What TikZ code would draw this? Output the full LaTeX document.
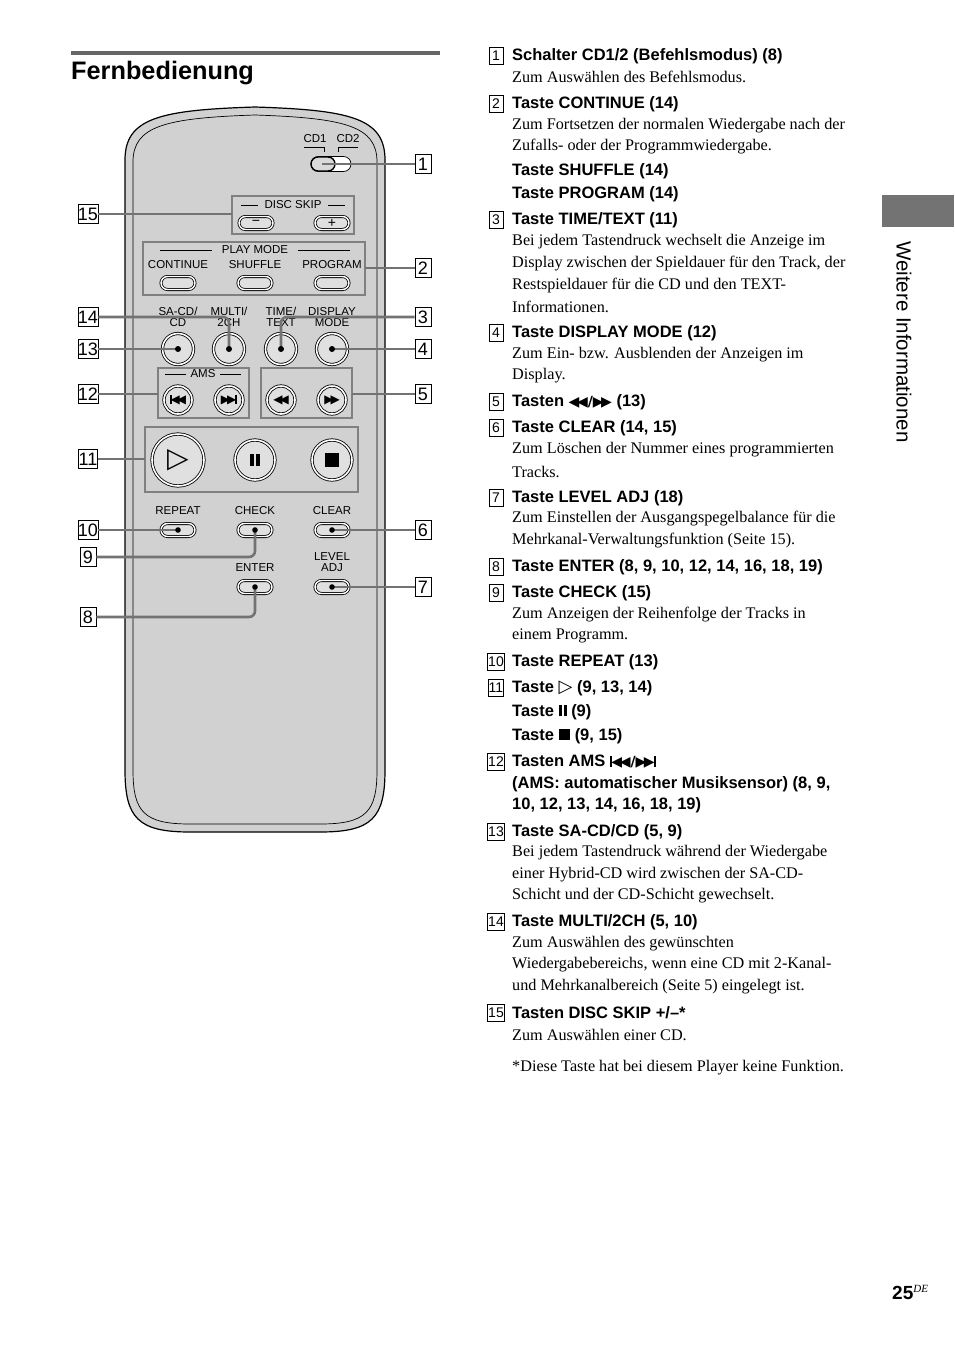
\documentclass[tikz,border=0pt]{standalone}
\usepackage{fontspec}
\setmainfont{Liberation Serif}
\setsansfont{Liberation Sans}
\newfontfamily\symf{DejaVu Sans}
\usetikzlibrary{shapes.misc}
\tikzset{
 lead/.style={draw=black!55,line width=2.6pt,rounded corners=6pt},
 numbox/.style={draw,line width=0.7pt,inner sep=0pt,minimum width=16pt,minimum height=19pt,font=\sffamily\fontsize{18}{18}\selectfont},
 rnum/.style={draw,line width=0.6pt,inner sep=0.5pt,minimum width=14pt,minimum height=17pt,font=\sffamily\fontsize{14}{14}\selectfont},
 grp/.style={draw=black!50,line width=2.4pt},
 lbl/.style={font=\sffamily\fontsize{11.5}{11.5}\selectfont,inner sep=0pt,align=center},
 pill/.style={rounded rectangle,draw,line width=0.8pt,double=white,double distance=1.4pt,fill=black!12,minimum width=34pt,minimum height=13pt,inner sep=0pt,font=\sffamily\fontsize{14}{14}\selectfont},
 rbtn/.style={circle,draw,line width=0.8pt,double=white,double distance=1.6pt,fill=black!12,minimum size=#1,inner sep=0pt},
 hd/.style={anchor=west,inner sep=0pt,font=\sffamily\bfseries\fontsize{16.5}{16.5}\selectfont},
 bd/.style={anchor=west,inner sep=0pt,font=\fontsize{16.2}{16.2}\selectfont},
}
\newcommand{\Hd}[3]{\node[rnum] (r#1) at (496,#1) {#2}; \node[hd] (h#1) at (512,#1) {#3};}
\newcommand{\Ho}[2]{\node[hd] (h#1) at (512,#1) {#2};}
\newcommand{\Bd}[2]{\node[bd] (b#1) at (512,#1) {#2};}
\begin{document}
\begin{tikzpicture}[x=1pt,y=-1pt]
\useasboundingbox (0,0) rectangle (954,1352);
% title
\draw[line width=4pt,black!60] (71,53) -- (440,53);
\node[anchor=west,inner sep=0pt,font=\sffamily\bfseries\fontsize{25.3}{25.3}\selectfont] (title) at (71,73) {Fernbedienung};
% remote body
\draw[line width=1.2pt,fill=black!18] (125,770) -- (125,160) .. controls (125,118) and (160,110) .. (255,107) .. controls (350,110) and (385,118) .. (385,160) -- (385,770) .. controls (385,818) and (372,832) .. (320,832) -- (190,832) .. controls (138,832) and (125,818) .. (125,770) -- cycle;
\draw[line width=0.7pt] (133,770) -- (133,162) .. controls (133,126) and (165,118) .. (255,115) .. controls (345,118) and (377,126) .. (377,162) -- (377,770) .. controls (377,812) and (366,824) .. (320,824) -- (190,824) .. controls (144,824) and (133,812) .. (133,770) -- cycle;
% CD switch
\node[lbl] (cd1) at (315,139) {CD1};
\node[lbl] (cd2) at (348,139) {CD2};
\draw[line width=0.6pt] (304,147) -- (324,147) -- (324,152);
\draw[line width=0.6pt] (338,152) -- (338,147) -- (358,147);
\node[rounded rectangle,draw,line width=0.7pt,fill=white,minimum width=40pt,minimum height=15pt,inner sep=0pt] (sw) at (331,164) {};
\node[rounded rectangle,draw,line width=1.4pt,fill=black!15,minimum width=24pt,minimum height=14pt,inner sep=0pt] (knob) at (323,164) {};
\node[numbox] (n1) at (423,164) {1};
\draw[lead] (n1.west) -- (322,164);
% disc skip
\draw[grp] (232,196) rectangle (354,234);
\node[lbl] (ds) at (293,205) {DISC SKIP};
\draw[line width=0.6pt] (241,205) -- (258,205) (328,205) -- (345,205);
\node[pill] (minus) at (256,223) {−};
\node[pill] (plus) at (332,223) {+};
\node[numbox] (n15) at (88,214) {15};
\draw[lead] (n15.east) -- (232,214);
% play mode
\draw[grp] (143,242) rectangle (365,295);
\node[lbl] (pm) at (255,250) {PLAY MODE};
\draw[line width=0.6pt] (160,250) -- (212,250) (298,250) -- (350,250);
\node[lbl] (lcont) at (178,265) {CONTINUE};
\node[lbl] (lshuf) at (255,265) {SHUFFLE};
\node[lbl] (lprog) at (332,265) {PROGRAM};
\node[pill] (bcont) at (178,283) {};
\node[pill] (bshuf) at (255,283) {};
\node[pill] (bprog) at (332,283) {};
\node[numbox] (n2) at (423,268) {2};
\draw[lead] (n2.west) -- (365,268);
% round buttons
\node[lbl] (lsa) at (178,317) {SA-CD/\\[-1pt]CD};
\node[lbl] (lmu) at (229,317) {MULTI/\\[-1pt]2CH};
\node[lbl] (lti) at (281,317) {TIME/\\[-1pt]TEXT};
\node[lbl] (ldi) at (332,317) {DISPLAY\\[-1pt]MODE};
\node[rbtn=31pt] (bsa) at (178,349) {};
\node[rbtn=31pt] (bmu) at (229,349) {};
\node[rbtn=31pt] (bti) at (281,349) {};
\node[rbtn=31pt] (bdi) at (332,349) {};
\node[numbox] (n14) at (88,317) {14};
\node[numbox] (n3) at (423,317) {3};
\node[numbox] (n13) at (88,349) {13};
\node[numbox] (n4) at (423,349) {4};
\draw[lead] (n14.east) -- (229,317) -- (bmu.center);
\draw[lead] (n3.west) -- (281,317) -- (bti.center);
\draw[lead] (n13.east) -- (bsa.center);
\draw[lead] (n4.west) -- (bdi.center);
\foreach \b in {bsa,bmu,bti,bdi} \fill (\b.center) circle (3pt);
% AMS & search
\draw[grp] (158,368) rectangle (249,418);
\draw[grp] (261,368) rectangle (352,418);
\node[lbl] (ams) at (203,374) {AMS};
\draw[line width=0.6pt] (165,374) -- (186,374) (220,374) -- (241,374);
\node[rbtn=28pt,font=\symf\fontsize{12}{12}\selectfont] (bprev) at (178,400) {\rule{1.8pt}{9pt}\kern-1pt◀\kern-3pt◀};
\node[rbtn=28pt,font=\symf\fontsize{12}{12}\selectfont] (bnext) at (229,400) {▶\kern-3pt▶\kern-1pt\rule{1.8pt}{9pt}};
\node[rbtn=28pt,font=\symf\fontsize{12}{12}\selectfont] (brew) at (281,400) {◀\kern-3pt◀};
\node[rbtn=28pt,font=\symf\fontsize{12}{12}\selectfont] (bff) at (332,400) {▶\kern-3pt▶};
\node[numbox] (n12) at (88,394) {12};
\node[numbox] (n5) at (423,394) {5};
\draw[lead] (n12.east) -- (158,394);
\draw[lead] (n5.west) -- (352,394);
% transport
\draw[grp] (145,427) rectangle (358,492);
\node[rbtn=52pt,font=\symf\fontsize{28}{28}\selectfont] (bplay) at (178,460) {▷};
\node[rbtn=40pt] (bpause) at (255,460) {\rule{3.5pt}{12pt}\kern2.5pt\rule{3.5pt}{12pt}};
\node[rbtn=40pt] (bstop) at (332,460) {\rule{14pt}{14pt}};
\node[numbox] (n11) at (88,459) {11};
\draw[lead] (n11.east) -- (145,459);
% lower buttons
\node[lbl] (lrep) at (178,511) {REPEAT};
\node[lbl] (lchk) at (255,511) {CHECK};
\node[lbl] (lclr) at (332,511) {CLEAR};
\node[lbl] (lent) at (255,568) {ENTER};
\node[lbl] (llev) at (332,562) {LEVEL\\[-1pt]ADJ};
\node[pill] (brep) at (178,530) {};
\node[pill] (bchk) at (255,530) {};
\node[pill] (bclr) at (332,530) {};
\node[pill] (bent) at (255,587) {};
\node[pill] (blev) at (332,587) {};
\node[numbox] (n10) at (88,530) {10};
\node[numbox] (n9) at (88,557) {9};
\node[numbox] (n8) at (88,617) {8};
\node[numbox] (n6) at (423,530) {6};
\node[numbox] (n7) at (423,587) {7};
\draw[lead] (n10.east) -- (brep.center);
\draw[lead] (n6.west) -- (bclr.center);
\draw[lead] (n7.west) -- (blev.center);
\draw[lead] (n9.east) -- (255,557) -- (bchk.center);
\draw[lead] (n8.east) -- (255,617) -- (bent.center);
\foreach \b in {brep,bchk,bclr,bent,blev} \fill (\b.center) circle (2.8pt);
% right column
\Hd{56}{1}{Schalter CD1/2 (Befehlsmodus) (8)}
\Bd{77}{Zum Auswählen des Befehlsmodus.}
\Hd{104}{2}{Taste CONTINUE (14)}
\Bd{126}{Zum Fortsetzen der normalen Wiedergabe nach der}
\Bd{147}{Zufalls- oder der Programmwiedergabe.}
\Ho{171}{Taste SHUFFLE (14)}
\Ho{194}{Taste PROGRAM (14)}
\Hd{220}{3}{Taste TIME/TEXT (11)}
\Bd{242}{Bei jedem Tastendruck wechselt die Anzeige im}
\Bd{264}{Display zwischen der Spieldauer für den Track, der}
\Bd{286}{Restspieldauer für die CD und den TEXT-}
\Bd{307}{Informationen.}
\Hd{333}{4}{Taste DISPLAY MODE (12)}
\Bd{355}{Zum Ein- bzw. Ausblenden der Anzeigen im}
\Bd{376}{Display.}
\Hd{402}{5}{Tasten {\symf\fontsize{14}{14}\selectfont ◀\kern-2.5pt◀/▶\kern-2.5pt▶} (13)}
\Hd{428}{6}{Taste CLEAR (14, 15)}
\Bd{450}{Zum Löschen der Nummer eines programmierten}
\Bd{472}{Tracks.}
\Hd{498}{7}{Taste LEVEL ADJ (18)}
\Bd{519}{Zum Einstellen der Ausgangspegelbalance für die}
\Bd{541}{Mehrkanal-Verwaltungsfunktion (Seite 15).}
\Hd{567}{8}{Taste ENTER (8, 9, 10, 12, 14, 16, 18, 19)}
\Hd{593}{9}{Taste CHECK (15)}
\Bd{615}{Zum Anzeigen der Reihenfolge der Tracks in}
\Bd{636}{einem Programm.}
\Hd{662}{10}{Taste REPEAT (13)}
\Hd{688}{11}{Taste {\symf\fontsize{18}{18}\selectfont ▷} (9, 13, 14)}
\Ho{712}{Taste \rule{3pt}{11pt}\kern2pt\rule{3pt}{11pt} (9)}
\Ho{736}{Taste \rule{11.5pt}{11.5pt} (9, 15)}
\Hd{762}{12}{Tasten AMS {\symf\fontsize{14}{14}\selectfont\rule{2pt}{10.5pt}\kern-0.5pt◀\kern-2.5pt◀/▶\kern-2.5pt▶\kern-0.5pt\rule{2pt}{10.5pt}}}
\Ho{784}{(AMS: automatischer Musiksensor) (8, 9,}
\Ho{805}{10, 12, 13, 14, 16, 18, 19)}
\Hd{832}{13}{Taste SA-CD/CD (5, 9)}
\Bd{853}{Bei jedem Tastendruck während der Wiedergabe}
\Bd{875}{einer Hybrid-CD wird zwischen der SA-CD-}
\Bd{896}{Schicht und der CD-Schicht gewechselt.}
\Hd{922}{14}{Taste MULTI/2CH (5, 10)}
\Bd{944}{Zum Auswählen des gewünschten}
\Bd{965}{Wiedergabebereichs, wenn eine CD mit 2-Kanal-}
\Bd{987}{und Mehrkanalbereich (Seite 5) eingelegt ist.}
\Hd{1013}{15}{Tasten DISC SKIP +/–*}
\Bd{1035}{Zum Auswählen einer CD.}
\Bd{1068}{*Diese Taste hat bei diesem Player keine Funktion.}
% side tab
\fill[black!55] (882,195) rectangle (954,227);
\node[rotate=-90,anchor=west,inner sep=0pt,font=\sffamily\fontsize{20.5}{20.5}\selectfont] (side) at (904,241) {Weitere Informationen};
% page number
\node[anchor=base west,inner sep=0pt,font=\sffamily\bfseries\fontsize{19}{19}\selectfont] (pg) at (892,1299) {25\textsuperscript{\normalfont\itshape\fontsize{11}{11}\selectfont DE}};
\end{tikzpicture}
\end{document}
